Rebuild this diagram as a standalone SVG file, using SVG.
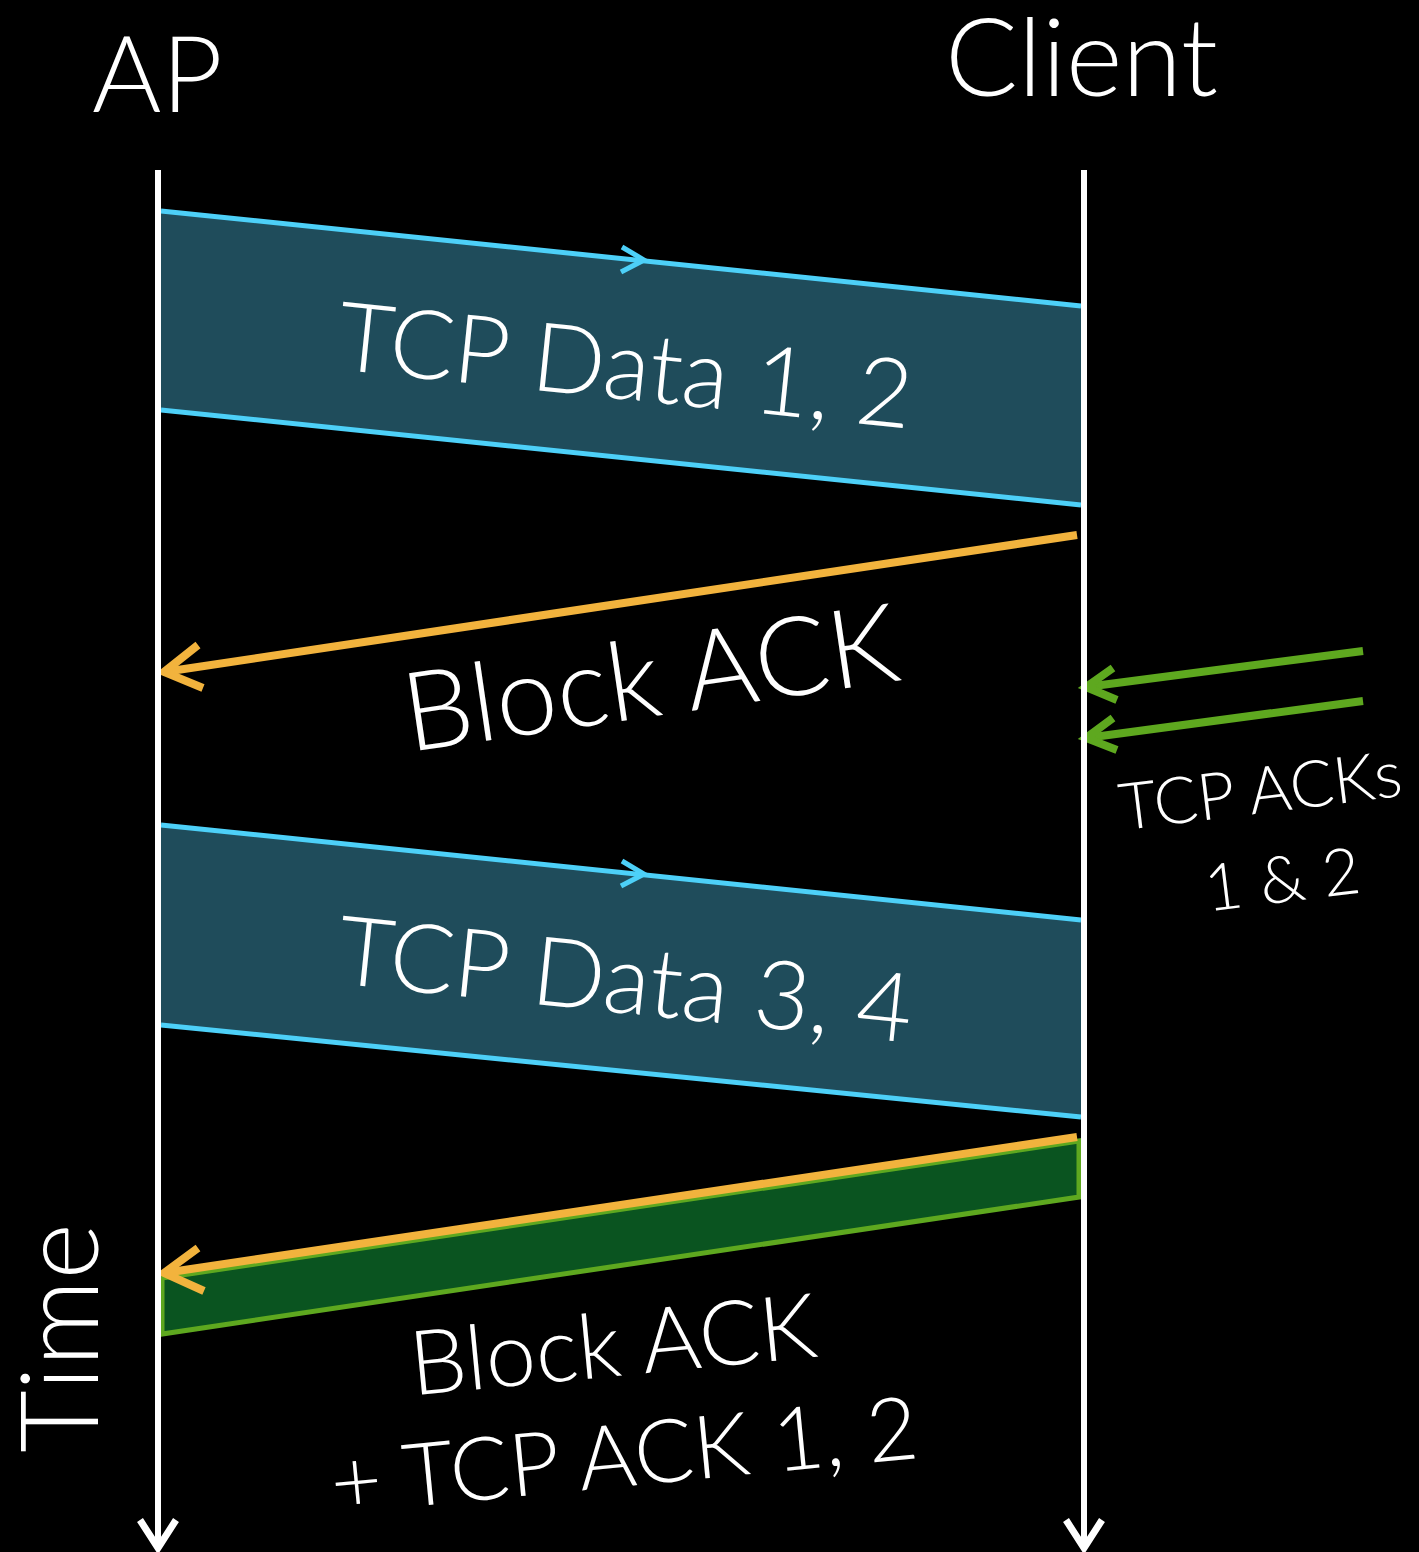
<svg xmlns="http://www.w3.org/2000/svg" width="1419" height="1552" viewBox="0 0 1419 1552">
  <style>
    .lbl { font-family: Lato, "Open Sans", "Liberation Sans", sans-serif; font-weight: 300; fill: #ffffff; }
    .life { stroke: #ffffff; stroke-width: 6; fill: none; }
    .head { stroke: #ffffff; stroke-width: 7; fill: none; stroke-linecap: butt; stroke-linejoin: miter; }
    .data { fill: #1f4c5b; }
    .blue { stroke: #4dd0f8; stroke-width: 5; fill: none; }
    .bluechev { stroke: #4dd0f8; stroke-width: 5; fill: none; }
    .orange { stroke: #f2b33d; stroke-width: 8; fill: none; }
    .green { stroke: #5ea81f; stroke-width: 8; fill: none; }
    .gband { fill: #0a5420; stroke: #5ea81f; stroke-width: 5; }
  </style>
  <rect width="1419" height="1552" fill="#000000"/>

  <!-- participants -->
  <g id="node-ap">
    <text class="lbl" x="92" y="112" font-size="106">AP</text>
  </g>
  <g id="node-client">
    <text class="lbl" x="945" y="96" font-size="108">Client</text>
  </g>
  <g id="node-time">
    <text class="lbl" transform="translate(98,1338) rotate(-90)" text-anchor="middle" font-size="108">Time</text>
  </g>

  <!-- frames exchanged between the two stations -->
  <g id="connectors">
    <!-- TCP Data 1, 2 -->
    <g id="data-1-2">
      <polygon class="data" points="161,211 1081,306 1081,505 161,410"/>
      <line class="blue" x1="161" y1="211" x2="1081" y2="306"/>
      <line class="blue" x1="161" y1="410" x2="1081" y2="505"/>
      <polyline class="bluechev" points="622,247 644,260 621,272"/>
    </g>
    <!-- Block ACK -->
    <g id="block-ack-1">
      <line class="orange" x1="1077" y1="535" x2="164" y2="672"/>
      <polyline class="orange" points="198,645 164,672 203,688"/>
    </g>
    <!-- TCP ACKs arriving at the client -->
    <g id="tcp-acks">
      <line class="green" x1="1363" y1="651" x2="1086" y2="687"/>
      <polyline class="green" points="1113,668 1086,687 1117,700"/>
      <line class="green" x1="1363" y1="701" x2="1086" y2="738"/>
      <polyline class="green" points="1113,718 1086,738 1117,750"/>
    </g>
    <!-- TCP Data 3, 4 -->
    <g id="data-3-4">
      <polygon class="data" points="161,825 1081,920 1081,1117 161,1025"/>
      <line class="blue" x1="161" y1="825" x2="1081" y2="920"/>
      <line class="blue" x1="161" y1="1025" x2="1081" y2="1117"/>
      <polyline class="bluechev" points="622,861 644,874 621,886"/>
    </g>
    <!-- Block ACK + TCP ACK 1, 2 -->
    <g id="block-ack-2">
      <polygon class="gband" points="162,1278 1079,1141 1079,1197 162,1334"/>
      <line class="orange" x1="1077" y1="1137" x2="164" y2="1273"/>
      <polyline class="orange" points="198,1248 164,1273 204,1291"/>
    </g>
  </g>

  <!-- lifelines -->
  <g id="lifelines">
    <line class="life" x1="158" y1="170" x2="158" y2="1548"/>
    <polyline class="head" points="140,1520 158,1548 176,1520"/>
    <line class="life" x1="1084" y1="170" x2="1084" y2="1548"/>
    <polyline class="head" points="1066,1520 1084,1548 1102,1520"/>
  </g>

  <!-- labels -->
  <g id="labels">
    <text class="lbl" transform="translate(622,399) rotate(5.9)" text-anchor="middle" font-size="96">TCP Data 1, 2</text>
    <text class="lbl" transform="translate(656,716) rotate(-8.3)" text-anchor="middle" font-size="110">Block ACK</text>
    <text class="lbl" transform="translate(1263,813) rotate(-7)" text-anchor="middle" font-size="65">TCP ACKs</text>
    <text class="lbl" transform="translate(1285,902) rotate(-7)" text-anchor="middle" font-size="65">1 &amp; 2</text>
    <text class="lbl" transform="translate(622,1013) rotate(5.9)" text-anchor="middle" font-size="96">TCP Data 3, 4</text>
    <text class="lbl" transform="translate(616,1376) rotate(-5.5)" text-anchor="middle" font-size="90">Block ACK</text>
    <text class="lbl" transform="translate(627,1486) rotate(-5.5)" text-anchor="middle" font-size="88">+ TCP ACK 1, 2</text>
  </g>
</svg>
